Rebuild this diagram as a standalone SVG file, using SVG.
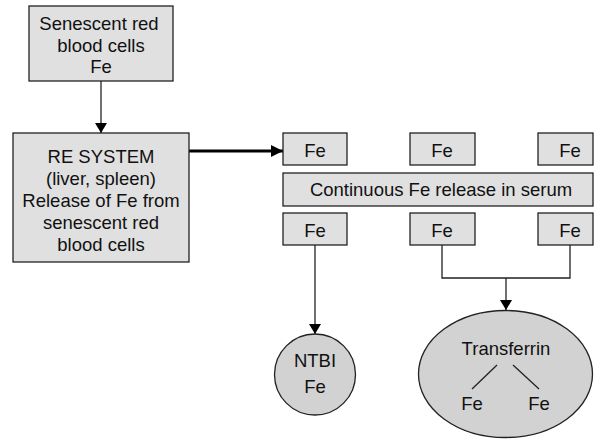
<svg xmlns="http://www.w3.org/2000/svg" width="594" height="439" viewBox="0 0 594 439">
  <style>
    .box { fill: #e0e0e0; stroke: #222; stroke-width: 1.3; }
    .round { fill: #d2d2d2; stroke: #222; stroke-width: 1.3; }
    .lbl { font-family: "Liberation Sans", Arial, sans-serif; font-size: 18.5px; fill: #111; text-anchor: middle; }
    .wire { fill: none; stroke: #222; stroke-width: 1.3; }
    .thick { fill: none; stroke: #000; stroke-width: 3.2; }
  </style>
  <defs>
    <marker id="head" viewBox="0 0 10 12" refX="10" refY="6" markerWidth="10" markerHeight="12" markerUnits="userSpaceOnUse" orient="auto">
      <path d="M0,0 L10,6 L0,12 Z" fill="#000"/>
    </marker>
    <marker id="headBig" viewBox="0 0 12 12" refX="12" refY="6" markerWidth="12" markerHeight="12" markerUnits="userSpaceOnUse" orient="auto">
      <path d="M0,0 L12,6 L0,12 Z" fill="#000"/>
    </marker>
  </defs>

  <g id="connectors">
    <line class="wire" x1="101" y1="81" x2="101" y2="133" marker-end="url(#head)"/>
    <line class="thick" x1="189" y1="151" x2="283" y2="151" marker-end="url(#headBig)"/>
    <line class="wire" x1="315" y1="245" x2="315" y2="334" marker-end="url(#head)"/>
    <polyline class="wire" points="442,245 442,278 570,278 570,245"/>
    <line class="wire" x1="506" y1="278" x2="506" y2="310" marker-end="url(#head)"/>
  </g>

  <g id="senescent-rbc">
    <rect class="box" x="29" y="6" width="144" height="75"/>
    <text class="lbl" x="99" y="30">Senescent red</text>
    <text class="lbl" x="101" y="52">blood cells</text>
    <text class="lbl" x="101" y="73">Fe</text>
  </g>

  <g id="re-system">
    <rect class="box" x="13" y="133" width="176" height="129"/>
    <text class="lbl" x="101" y="163">RE SYSTEM</text>
    <text class="lbl" x="101" y="185">(liver, spleen)</text>
    <text class="lbl" x="101" y="207">Release of Fe from</text>
    <text class="lbl" x="101" y="229">senescent red</text>
    <text class="lbl" x="101" y="251">blood cells</text>
  </g>

  <g id="fe-top-1">
    <rect class="box" x="283" y="133" width="64" height="32"/>
    <text class="lbl" x="315" y="157">Fe</text>
  </g>
  <g id="fe-top-2">
    <rect class="box" x="410" y="133" width="65" height="32"/>
    <text class="lbl" x="442" y="157">Fe</text>
  </g>
  <g id="fe-top-3">
    <rect class="box" x="538" y="133" width="55" height="32"/>
    <text class="lbl" x="570" y="157">Fe</text>
  </g>

  <g id="serum-release">
    <rect class="box" x="283" y="173" width="310" height="33"/>
    <text class="lbl" x="441" y="196">Continuous Fe release in serum</text>
  </g>

  <g id="fe-bottom-1">
    <rect class="box" x="283" y="213" width="64" height="32"/>
    <text class="lbl" x="315" y="237">Fe</text>
  </g>
  <g id="fe-bottom-2">
    <rect class="box" x="410" y="213" width="65" height="32"/>
    <text class="lbl" x="442" y="237">Fe</text>
  </g>
  <g id="fe-bottom-3">
    <rect class="box" x="538" y="213" width="55" height="32"/>
    <text class="lbl" x="570" y="237">Fe</text>
  </g>

  <g id="ntbi">
    <circle class="round" cx="315" cy="374.5" r="40.5"/>
    <text class="lbl" x="315" y="367">NTBI</text>
    <text class="lbl" x="315" y="393">Fe</text>
  </g>

  <g id="transferrin">
    <ellipse class="round" cx="505.5" cy="374" rx="87" ry="63.5"/>
    <text class="lbl" x="506" y="355">Transferrin</text>
    <line class="wire" x1="497" y1="365" x2="472" y2="389"/>
    <line class="wire" x1="513" y1="365" x2="539" y2="389"/>
    <text class="lbl" x="472" y="410">Fe</text>
    <text class="lbl" x="539" y="410">Fe</text>
  </g>
</svg>
